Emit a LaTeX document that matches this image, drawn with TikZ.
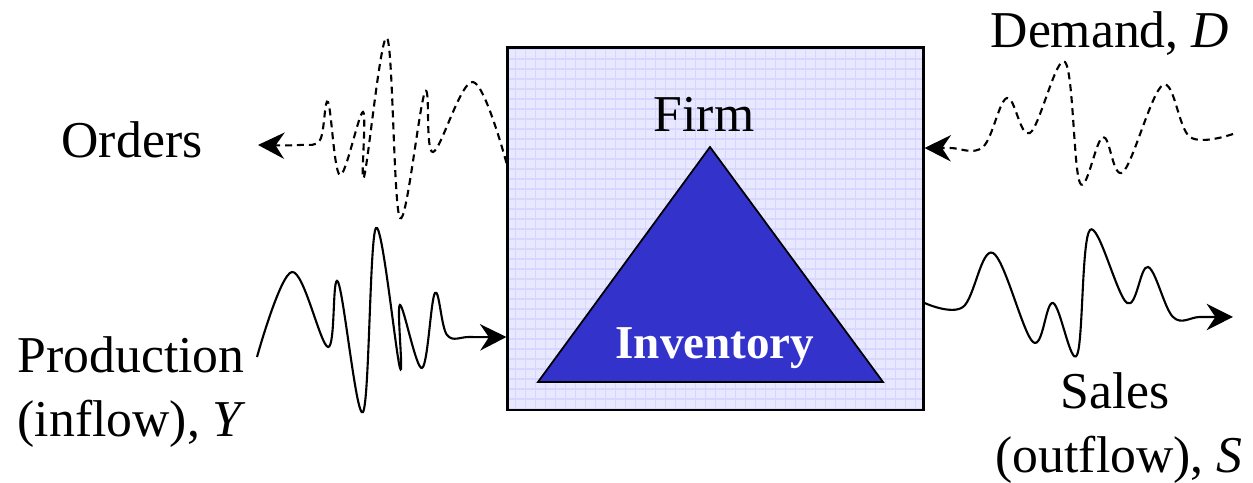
\documentclass[tikz,border=0pt]{standalone}
\usepackage{fontspec}
\setmainfont{Liberation Serif}
\usetikzlibrary{arrows.meta}
\definecolor{cpanel}{HTML}{E8E8FF}
\definecolor{cgrid}{HTML}{D6D6FF}
\definecolor{cstock}{HTML}{3333CC}
\tikzset{
  tag/.style={font=\fontsize{14.7}{17}\selectfont, inner sep=0pt},
  stocktag/.style={font=\fontsize{13.4}{16}\selectfont\bfseries, text=white, inner sep=0pt},
  panel/.style={draw=black, fill=cpanel, line width=0.8pt, minimum width=4.15cm, minimum height=3.62cm, inner sep=0pt,
    path picture={\draw[cgrid, line width=0.4pt, step=1mm] (path picture bounding box.south west) grid (path picture bounding box.north east);}},
  stock/.style={draw=black, fill=cstock, line width=0.5pt, line join=miter},
  flow/.style={line width=0.6pt, -{Stealth[length=7.5pt, width=7.5pt, inset=2.5pt]}},
  info/.style={flow, dash pattern=on 2pt off 1.4pt},
}

\begin{document}
\begin{tikzpicture}[x=0.01cm, y=-0.01cm]
  \useasboundingbox (0,0) rectangle (1253,483);
  % the firm and its stock
  \node[panel] (firm) at (715.5,229) {};
  \coordinate (apex) at (710,147);
  \coordinate (baseL) at (538,382);
  \coordinate (baseR) at (883,382);
  \draw[stock] (apex) -- (baseR) -- (baseL) -- cycle;
  \node[tag, anchor=base] (firmlbl) at (704,132) {Firm};
  \node[stocktag, anchor=base] (inv) at (715,359) {Inventory};
  % labels
  \node[tag, anchor=base] (orders) at (132,158) {Orders};
  \node[tag, anchor=base west] (demand) at (990,48) {Demand, \textit{D}};
  \node[tag, anchor=base west] (prod) at (17,373) {Production};
  \node[tag, anchor=base west] (inflow) at (17,437) {(inflow), \textit{Y}};
  \node[tag, anchor=base] (sales) at (1115,409) {Sales};
  \node[tag, anchor=base] (outflow) at (1119,473) {(outflow), \textit{S}};
  % flows
  \coordinate (ordersEnd) at (258,145);
  \coordinate (prodStart) at (257,357);
  \coordinate (demandStart) at (1233,134);
  \coordinate (salesEnd) at (1233,317);
  \draw[info] plot[smooth, tension=0.6] coordinates {(firm.west |- 0,163) (473,82) (433,152) (425,92) (400,218) (387,38)
    (364,177) (363,112) (340,175) (328,102) (320,140) (300,145) (ordersEnd)};
  \draw[flow] plot[smooth, tension=0.6] coordinates {(prodStart) (292,272) (328,347) (338,282) (363,412) (376,228)
    (400,368) (400,305) (422,368) (435,293) (447,335) (470,337) (firm.west |- 0,337)};
  \draw[info] plot[smooth, tension=0.6] coordinates {(demandStart) (1190,137) (1163,85) (1123,172) (1103,137) (1080,183)
    (1065,62) (1030,133) (1007,98) (983,147) (950,148) (firm.east |- 0,148)};
  \draw[flow] plot[smooth, tension=0.6] coordinates {(firm.east |- 0,303) (963,307) (993,253) (1033,342) (1053,303)
    (1077,355) (1090,230) (1127,303) (1148,267) (1173,317) (1200,317) (salesEnd)};
\end{tikzpicture}
\end{document}
